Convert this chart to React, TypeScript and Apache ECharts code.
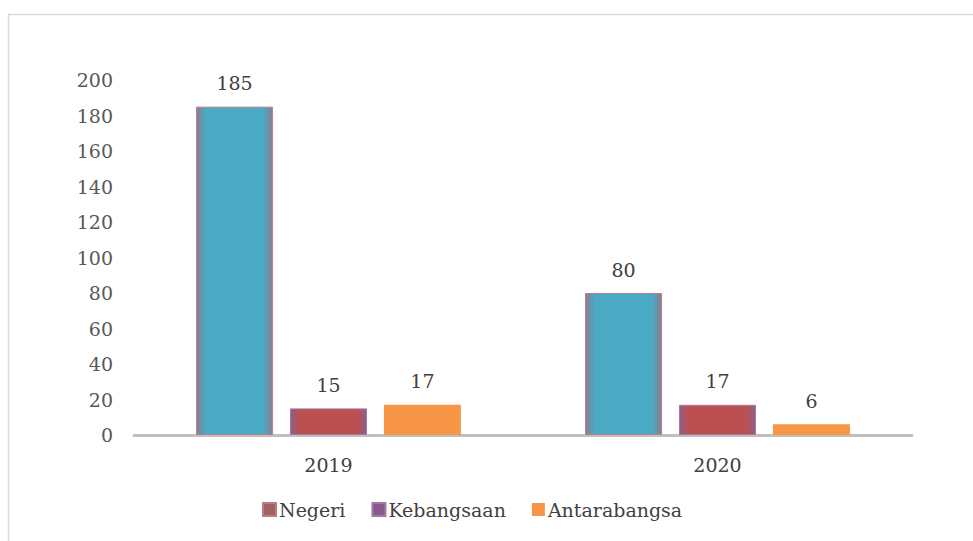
import React, { useEffect, useRef } from "react";
import * as echarts from "echarts";

const categories = ["2019", "2020"];
const negeri = [185, 80];
const kebangsaan = [15, 17];
const antarabangsa = [17, 6];
const seriesNames = ["Negeri", "Kebangsaan", "Antarabangsa"];
const legendColors = ["#a5615f", "#8a5a8e", "#f79646"];

const FONT = "DejaVu Serif";
const FS = 19;

function glow(edge: string, fill: string) {
  return new echarts.graphic.LinearGradient(0, 0, 1, 0, [
    { offset: 0, color: edge },
    { offset: 0.12, color: fill },
    { offset: 0.88, color: fill },
    { offset: 1, color: edge },
  ]);
}

export default function App() {
  const ref = useRef<HTMLDivElement>(null);
  useEffect(() => {
    if (!ref.current) return;
    const chart = echarts.init(ref.current, undefined, { renderer: "svg" });
    const label = {
      show: true,
      position: "top" as const,
      distance: 14,
      color: "#404040",
      fontFamily: FONT,
      fontSize: FS,
    };
    chart.setOption({
      animation: false,
      backgroundColor: "#ffffff",
      graphic: [
        {
          type: "rect",
          shape: { x: 8.5, y: 14.5, width: 1000, height: 600 },
          style: { fill: "none", stroke: "#d9d9d9", lineWidth: 1.5 },
          silent: true,
        },
      ],
      grid: { left: 134, right: 61, top: 80, bottom: 106, containLabel: false },
      legend: {
        top: 495,
        left: 257,
        itemWidth: 13,
        itemHeight: 13,
        itemGap: 26,
        icon: "rect",
        textStyle: { fontFamily: FONT, fontSize: FS, color: "#404040", padding: [0, 0, 0, -2] },
        data: seriesNames.map((n, i) => ({ name: n, itemStyle: { color: legendColors[i] } })),
      },
      xAxis: {
        type: "category",
        data: categories,
        axisLine: { lineStyle: { color: "#bfbfbf", width: 3 } },
        axisTick: { show: false },
        axisLabel: { fontFamily: FONT, fontSize: FS, color: "#404040", margin: 20 },
      },
      yAxis: {
        type: "value",
        min: 0,
        max: 200,
        interval: 20,
        splitLine: { show: false },
        axisLine: { show: false },
        axisTick: { show: false },
        axisLabel: { fontFamily: FONT, fontSize: FS, color: "#595959", margin: 21 },
      },
      series: [
        {
          name: seriesNames[0],
          type: "bar",
          data: negeri,
          barWidth: 77,
          barGap: "22%",
          itemStyle: { color: glow("#8d7b8f", "#4aa9c3"), borderColor: "#b77f86", borderWidth: 1 },
          label,
        },
        {
          name: seriesNames[1],
          type: "bar",
          data: kebangsaan,
          barWidth: 77,
          itemStyle: { color: glow("#8e5f8a", "#bc4f4f"), borderColor: "#a07aa6", borderWidth: 1 },
          label,
        },
        {
          name: seriesNames[2],
          type: "bar",
          data: antarabangsa,
          barWidth: 77,
          itemStyle: { color: "#f79646" },
          label,
        },
      ],
    });
    return () => chart.dispose();
  }, []);
  return (
    <div
      ref={ref}
      style={{ position: "fixed", left: 0, top: 0, width: 973, height: 541 }}
    />
  );
}
